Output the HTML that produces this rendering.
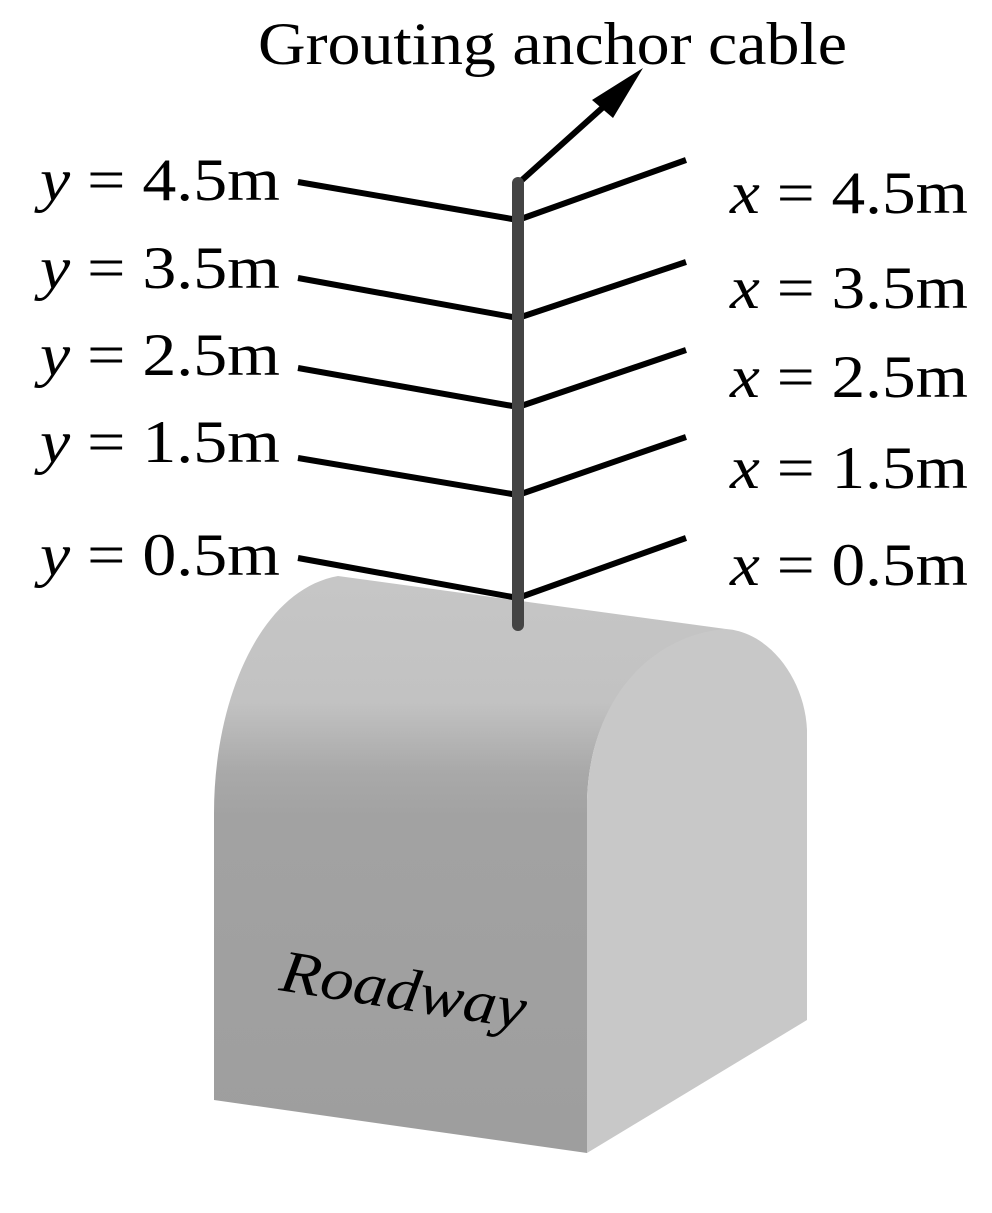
<!DOCTYPE html>
<html><head><style>body{margin:0;background:#fff}svg{display:block}</style></head><body>
<svg width="992" height="1213" viewBox="0 0 992 1213" xmlns="http://www.w3.org/2000/svg">
<defs>
<linearGradient id="g" gradientUnits="userSpaceOnUse" x1="0" y1="576" x2="0" y2="1150">
<stop offset="0" stop-color="#c6c6c6"/><stop offset="0.22" stop-color="#c2c2c2"/><stop offset="0.34" stop-color="#a9a9a9"/><stop offset="0.42" stop-color="#a2a2a2"/><stop offset="1" stop-color="#9e9e9e"/>
</linearGradient>
</defs>
<path d="M214,1100 L214,813 C214,700 260,590 338,576 L726,629 C650,640 590,700 587,800 L587,1153 Z" fill="url(#g)"/>
<path d="M587,1153 L587,800 C590,700 650,635 726,629 C770,632 805,680 807,730 L807,1020 Z" fill="#c8c8c8"/>
<g stroke="#000" stroke-width="6" fill="none">
<path d="M298,182 L518,220 L686,160"/>
<path d="M298,278 L518,318 L686,262"/>
<path d="M298,368 L518,407 L686,350"/>
<path d="M298,458 L518,495 L686,437"/>
<path d="M298,558 L518,598 L686,538"/>
<path d="M522,180 L620,92"/>
</g>
<polygon points="643,68 592,100 613,118" fill="#000"/>
<line x1="518" y1="183" x2="518" y2="625" stroke="#444" stroke-width="12" stroke-linecap="round"/>
<g font-family="Liberation Serif, serif" font-size="60" fill="#000" lengthAdjust="spacingAndGlyphs">
<text x="258" y="64" textLength="589" lengthAdjust="spacingAndGlyphs">Grouting anchor cable</text>
<text x="40" y="200" textLength="240" lengthAdjust="spacingAndGlyphs"><tspan font-style="italic">y</tspan> = 4.5m</text>
<text x="40" y="288" textLength="240" lengthAdjust="spacingAndGlyphs"><tspan font-style="italic">y</tspan> = 3.5m</text>
<text x="40" y="375" textLength="240" lengthAdjust="spacingAndGlyphs"><tspan font-style="italic">y</tspan> = 2.5m</text>
<text x="40" y="462" textLength="240" lengthAdjust="spacingAndGlyphs"><tspan font-style="italic">y</tspan> = 1.5m</text>
<text x="40" y="575" textLength="240" lengthAdjust="spacingAndGlyphs"><tspan font-style="italic">y</tspan> = 0.5m</text>
<text x="730" y="213" textLength="238" lengthAdjust="spacingAndGlyphs"><tspan font-style="italic">x</tspan> = 4.5m</text>
<text x="730" y="308" textLength="238" lengthAdjust="spacingAndGlyphs"><tspan font-style="italic">x</tspan> = 3.5m</text>
<text x="730" y="397" textLength="238" lengthAdjust="spacingAndGlyphs"><tspan font-style="italic">x</tspan> = 2.5m</text>
<text x="730" y="488" textLength="238" lengthAdjust="spacingAndGlyphs"><tspan font-style="italic">x</tspan> = 1.5m</text>
<text x="730" y="585" textLength="238" lengthAdjust="spacingAndGlyphs"><tspan font-style="italic">x</tspan> = 0.5m</text>
<text x="278" y="990" font-style="italic" font-size="60" textLength="248" lengthAdjust="spacingAndGlyphs" transform="rotate(9 278 990)">Roadway</text>
</g>
</svg>
</body></html>
